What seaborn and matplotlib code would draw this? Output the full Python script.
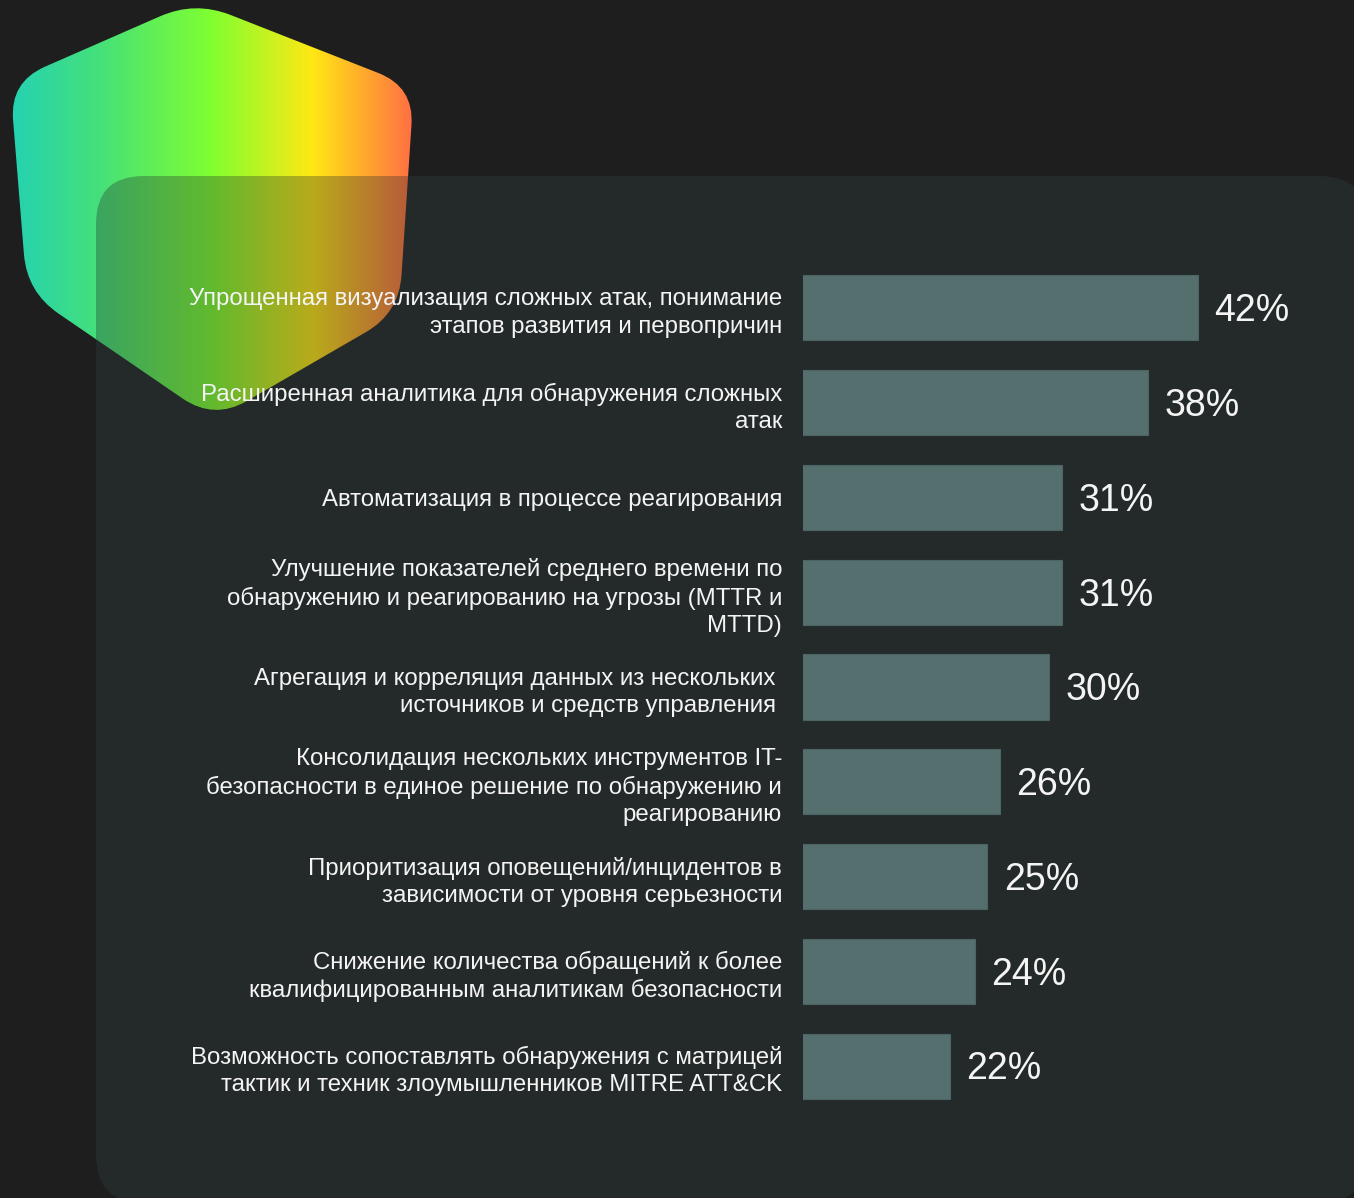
import numpy as np
import pandas as pd
import matplotlib
matplotlib.use("Agg")
import matplotlib.pyplot as plt
from matplotlib.path import Path
from matplotlib.patches import PathPatch, FancyBboxPatch
from matplotlib.colors import LinearSegmentedColormap
import seaborn as sns

# ---------------- data ----------------
categories = [
    "Упрощенная визуализация сложных атак, понимание\nэтапов развития и первопричин",
    "Расширенная аналитика для обнаружения сложных\nатак",
    "Автоматизация в процессе реагирования",
    "Улучшение показателей среднего времени по\nобнаружению и реагированию на угрозы (MTTR и\nMTTD)",
    "Агрегация и корреляция данных из нескольких \nисточников и средств управления ",
    "Консолидация нескольких инструментов IT-\nбезопасности в единое решение по обнаружению и\nреагированию",
    "Приоритизация оповещений/инцидентов в\nзависимости от уровня серьезности",
    "Снижение количества обращений к более\nквалифицированным аналитикам безопасности",
    "Возможность сопоставлять обнаружения с матрицей\nтактик и техник злоумышленников MITRE ATT&CK",
]
values = [42, 38, 31, 31, 30, 26, 25, 24, 22]

# ---------------- style ----------------
sns.set_theme(style="dark")
plt.rcParams["font.family"] = ["Liberation Sans", "DejaVu Sans"]

BG = "#1e1e1e"
PANEL = "#242a2a"
BAR = "#546f6e"
TXT = "#f4f4f4"

W, H = 1354, 1198
fig = plt.figure(figsize=(W / 100, H / 100), dpi=100)
fig.patch.set_facecolor(BG)

# background decoration axes in pixel coordinates
bg = fig.add_axes([0, 0, 1, 1])
bg.set_xlim(0, W)
bg.set_ylim(H, 0)
bg.axis("off")
bg.set_facecolor("none")

panel_kw = dict(boxstyle="round,pad=0,rounding_size=48", linewidth=0)
panel_xy = (96, 176)
panel_w, panel_h = 1367 - 96, 1203 - 176
panel = FancyBboxPatch(panel_xy, panel_w, panel_h,
                       facecolor=PANEL, zorder=1, **panel_kw)
bg.add_patch(panel)


def rounded_poly(pts, r):
    n = len(pts)
    verts, codes = [], []
    for i in range(n):
        p0 = np.array(pts[i - 1], float)
        p1 = np.array(pts[i], float)
        p2 = np.array(pts[(i + 1) % n], float)
        a = p1 + (p0 - p1) / np.linalg.norm(p0 - p1) * r
        b = p1 + (p2 - p1) / np.linalg.norm(p2 - p1) * r
        verts.append(a)
        codes.append(Path.MOVETO if i == 0 else Path.LINETO)
        verts += [p1, b]
        codes += [Path.CURVE3, Path.CURVE3]
    verts.append(verts[0]); codes.append(Path.CLOSEPOLY)
    return Path(verts, codes)


hex_pts = [(195, 1), (414, 87), (399, 313), (214, 420), (27, 292), (10, 82)]
hex_path = rounded_poly(hex_pts, 38)
hex_patch = PathPatch(hex_path, facecolor="none", edgecolor="none", zorder=2)
bg.add_patch(hex_patch)

grad_cmap = LinearSegmentedColormap.from_list(
    "hexgrad",
    [(0.0, "#24d2b2"), (0.22, "#45e07a"), (0.5, "#80ff30"),
     (0.75, "#ffe814"), (1.0, "#ff6e44")])
grad = np.linspace(0, 1, 512).reshape(1, -1)
im = bg.imshow(grad, cmap=grad_cmap, extent=(10, 414, 420, 0),
               aspect="auto", zorder=2, interpolation="bilinear")
im.set_clip_path(hex_patch)
bg.set_xlim(0, W)
bg.set_ylim(H, 0)

overlay = FancyBboxPatch(panel_xy, panel_w, panel_h,
                         facecolor=PANEL, alpha=0.32, zorder=3, **panel_kw)
bg.add_patch(overlay)

# ---------------- bar chart ----------------
ax_left, ax_right = 803, W
ax_top, ax_bot = 260.6, 1113.4
ax = fig.add_axes([ax_left / W, 1 - ax_bot / H,
                   (ax_right - ax_left) / W, (ax_bot - ax_top) / H])
ax.set_facecolor("none")

df = pd.DataFrame({"cat": categories, "val": values})
sns.barplot(data=df, x="val", y="cat", orient="h", color=BAR,
            saturation=1, width=0.686, ax=ax, edgecolor="#4b6564",
            linewidth=0.8)

px_per_unit = 12.4
xmin = 10.15
ax.set_xlim(xmin, xmin + (ax_right - ax_left) / px_per_unit)
ax.set_ylim(len(values) - 0.5, -0.5)

for i, v in enumerate(values):
    ax.annotate(f"{v}%", xy=(v, i), xytext=(12, -2.5),
                textcoords="offset points", ha="left", va="center",
                fontsize=27, color=TXT)

ax.set_xlabel("")
ax.set_ylabel("")
ax.set_xticks([])
ax.tick_params(axis="y", length=0, pad=15, labelsize=17.3, labelcolor=TXT)
for lab in ax.get_yticklabels():
    lab.set_linespacing(1.3)
    lab.set_multialignment("right")
for s in ax.spines.values():
    s.set_visible(False)
ax.grid(False)

fig.savefig("out.png", dpi=100, facecolor=BG)
